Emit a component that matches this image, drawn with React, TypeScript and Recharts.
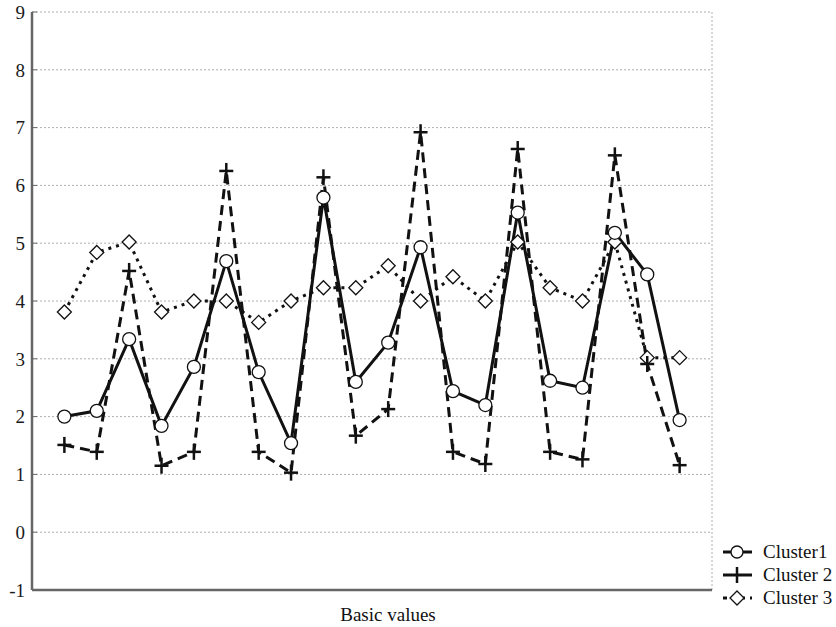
import React from 'react';
import { LineChart, Line, XAxis, YAxis, CartesianGrid } from 'recharts';

// positions along the x axis (unlabelled)
const points = [1, 2, 3, 4, 5, 6, 7, 8, 9, 10, 11, 12, 13, 14, 15, 16, 17, 18, 19, 20];
const cluster1 = [2.0, 2.1, 3.34, 1.84, 2.86, 4.69, 2.77, 1.54, 5.79, 2.6, 3.28, 4.93, 2.44, 2.2, 5.53, 2.62, 2.5, 5.18, 4.46, 1.94];
const cluster2 = [1.51, 1.39, 4.52, 1.15, 1.39, 6.25, 1.39, 1.03, 6.14, 1.67, 2.13, 6.92, 1.39, 1.18, 6.63, 1.39, 1.26, 6.52, 2.91, 1.16];
const cluster3 = [3.81, 4.84, 5.02, 3.81, 4.0, 4.0, 3.63, 4.0, 4.23, 4.23, 4.61, 4.0, 4.42, 4.0, 5.02, 4.23, 4.0, 5.02, 3.02, 3.02];
const yTicks = [-1, 0, 1, 2, 3, 4, 5, 6, 7, 8, 9];
const yMinorTicks = Array.from({ length: 41 }, (_, i) => -1 + i * 0.25);
const xMinorTicks = Array.from({ length: 85 }, (_, i) => i * 0.25);

const data = points.map((p, i) => ({ idx: p, c1: cluster1[i], c2: cluster2[i], c3: cluster3[i] }));

const FONT = '"Liberation Serif", "Times New Roman", serif';
const FRAME = '#666';

const YTick = (props: any) => {
  const { y, payload } = props;
  return (
    <text x={25} y={y} dy="0.36em" textAnchor="end" fill="#1a1a1a" fontSize={19} fontFamily={FONT}>
      {payload.value}
    </text>
  );
};

const CircleDot = (props: any) => {
  const { cx, cy, index } = props;
  if (cx == null || cy == null) return null;
  return <circle key={`c1-${index}`} cx={cx} cy={cy} r={6.5} fill="#fff" stroke="#111" strokeWidth={1.3} />;
};

const PlusDot = (props: any) => {
  const { cx, cy, index } = props;
  if (cx == null || cy == null) return null;
  return (
    <g key={`c2-${index}`}>
      <line x1={cx - 7} y1={cy} x2={cx + 7} y2={cy} stroke="#111" strokeWidth={2.5} />
      <line x1={cx} y1={cy - 8} x2={cx} y2={cy + 8} stroke="#111" strokeWidth={2.5} />
    </g>
  );
};

const DiamondDot = (props: any) => {
  const { cx, cy, index } = props;
  if (cx == null || cy == null) return null;
  const s = 7;
  return (
    <path
      key={`c3-${index}`}
      d={`M${cx},${cy - s}L${cx + s},${cy}L${cx},${cy + s}L${cx - s},${cy}Z`}
      fill="#fff"
      stroke="#111"
      strokeWidth={1.3}
    />
  );
};

const LegendRow = ({ kind, label }: { kind: string; label: string }) => (
  <div style={{ display: 'flex', alignItems: 'center', height: 23 }}>
    <svg width={32} height={18} style={{ marginRight: 9 }}>
      {kind === 'c1' && (
        <g>
          <line x1={1} y1={9} x2={30} y2={9} stroke="#111" strokeWidth={3} />
          <circle cx={15} cy={9} r={6} fill="#fff" stroke="#111" strokeWidth={1.3} />
        </g>
      )}
      {kind === 'c2' && (
        <g>
          <line x1={1} y1={9} x2={30} y2={9} stroke="#111" strokeWidth={3} />
          <line x1={15} y1={1} x2={15} y2={17} stroke="#111" strokeWidth={2.5} />
        </g>
      )}
      {kind === 'c3' && (
        <g>
          <line x1={1} y1={9} x2={30} y2={9} stroke="#111" strokeWidth={3} strokeDasharray="4 5" />
          <path d="M15,2L22,9L15,16L8,9Z" fill="#fff" stroke="#111" strokeWidth={1.3} />
        </g>
      )}
    </svg>
    <span>{label}</span>
  </div>
);

export default function App() {
  return (
    <div style={{ position: 'absolute', left: 0, top: 0, width: 836, height: 627, background: '#fff' }}>
      <LineChart width={836} height={627} data={data} margin={{ top: 12, right: 124, left: 0, bottom: 0 }}>
        <CartesianGrid stroke="#b0b0b0" strokeDasharray="2 2" />
        <XAxis
          xAxisId="minor"
          dataKey="idx"
          type="number"
          domain={[0, 21]}
          ticks={xMinorTicks}
          tick={false}
          tickSize={-3}
          axisLine={false}
          tickLine={{ stroke: FRAME }}
          height={0}
        />
        <XAxis
          dataKey="idx"
          type="number"
          domain={[0, 21]}
          ticks={points}
          tick={false}
          tickSize={-5}
          tickLine={{ stroke: FRAME }}
          axisLine={{ stroke: FRAME, strokeWidth: 2.5 }}
          height={37}
          label={{ value: 'Basic values', position: 'insideBottom', offset: 6, dx: 16, fill: '#111', fontSize: 19, fontFamily: FONT }}
        />
        <XAxis
          xAxisId="top"
          orientation="top"
          dataKey="idx"
          type="number"
          domain={[0, 21]}
          ticks={points}
          tick={false}
          tickSize={-5}
          tickLine={{ stroke: FRAME }}
          axisLine={{ stroke: FRAME, strokeWidth: 2.5 }}
          height={0}
        />
        <YAxis
          yAxisId="minorLeft"
          domain={[-1, 9]}
          ticks={yMinorTicks}
          tick={false}
          tickSize={-3}
          tickLine={{ stroke: FRAME }}
          axisLine={false}
          width={0}
        />
        <YAxis
          domain={[-1, 9]}
          ticks={yTicks}
          tickSize={-5}
          tickMargin={12}
          tickLine={{ stroke: FRAME }}
          axisLine={{ stroke: FRAME, strokeWidth: 2.5 }}
          tick={YTick}
          width={32}
        />
        <YAxis
          yAxisId="right"
          orientation="right"
          domain={[-1, 9]}
          ticks={yMinorTicks}
          tick={false}
          tickSize={-3}
          tickLine={{ stroke: FRAME }}
          axisLine={{ stroke: FRAME, strokeWidth: 2.5 }}
          width={0}
        />
        <Line
          type="linear"
          dataKey="c3"
          stroke="#111"
          strokeWidth={3}
          strokeDasharray="3 5"
          dot={DiamondDot}
          activeDot={false}
          isAnimationActive={false}
        />
        <Line
          type="linear"
          dataKey="c2"
          stroke="#111"
          strokeWidth={3}
          strokeDasharray="10 6"
          dot={PlusDot}
          activeDot={false}
          isAnimationActive={false}
        />
        <Line
          type="linear"
          dataKey="c1"
          stroke="#111"
          strokeWidth={3}
          dot={CircleDot}
          activeDot={false}
          isAnimationActive={false}
        />
      </LineChart>
      <div style={{ position: 'absolute', left: 722, top: 540, fontFamily: FONT, fontSize: 19, color: '#111', lineHeight: '23px' }}>
        <LegendRow kind="c1" label="Cluster1" />
        <LegendRow kind="c2" label="Cluster 2" />
        <LegendRow kind="c3" label="Cluster 3" />
      </div>
    </div>
  );
}
